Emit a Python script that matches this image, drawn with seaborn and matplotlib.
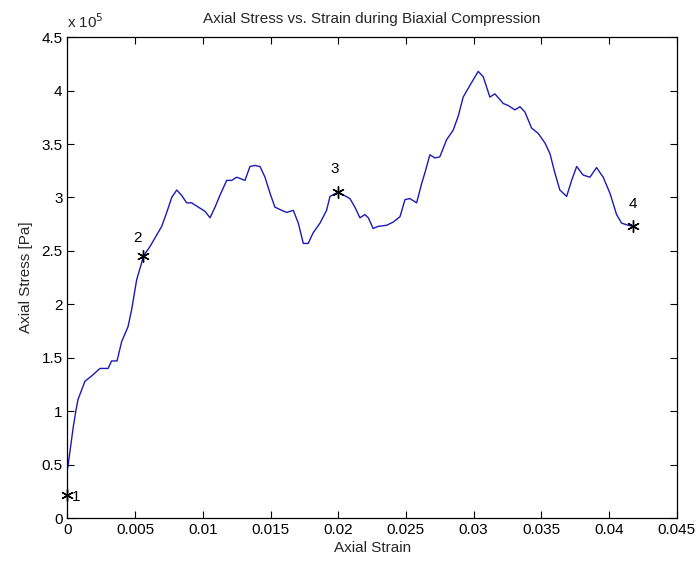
import matplotlib
matplotlib.use("Agg")
import matplotlib.pyplot as plt
import seaborn as sns
import pandas as pd

# Axial strain / stress (stress in units of 1e5 Pa)
strain = [0.00002, 0.00043, 0.00063, 0.00078, 0.00129, 0.00179, 0.0024, 0.0030, 0.00326,
          0.00366, 0.0040, 0.00447, 0.00474, 0.00511, 0.00548, 0.0056,
          0.00609, 0.00696, 0.00733, 0.0077, 0.00807, 0.00843, 0.0088, 0.00917, 0.00979,
          0.01016, 0.01053, 0.0109, 0.01126, 0.01176, 0.01213, 0.0125, 0.01311, 0.01348,
          0.01385, 0.01422, 0.01459, 0.01496, 0.01532, 0.01582, 0.01619, 0.01668, 0.01705,
          0.01742, 0.01778, 0.01815, 0.01865, 0.01914, 0.01939, 0.0200,
          0.02086, 0.02123, 0.0216, 0.02197, 0.02222, 0.02258, 0.02295, 0.02357, 0.02406,
          0.02456, 0.02493, 0.02529, 0.02579, 0.02616, 0.0264, 0.02677, 0.02714, 0.0275,
          0.028, 0.02849, 0.02886, 0.02923, 0.02973, 0.03034, 0.03071, 0.0312, 0.03157,
          0.03219, 0.03256, 0.03305, 0.03342, 0.03379, 0.03428, 0.03477, 0.03527, 0.03564,
          0.036, 0.03637, 0.03687, 0.03724, 0.03761, 0.03809, 0.03859, 0.03908, 0.03957,
          0.04007, 0.04056, 0.04093, 0.04142, 0.0418]
stress = [0.47, 0.855, 1.01, 1.11, 1.28, 1.33, 1.40, 1.40, 1.47,
          1.47, 1.65, 1.79, 1.95, 2.23, 2.39, 2.45,
          2.54, 2.73, 2.86, 3.00, 3.07, 3.02, 2.95, 2.95, 2.90,
          2.87, 2.81, 2.91, 3.02, 3.16, 3.16, 3.19, 3.16, 3.29,
          3.30, 3.29, 3.19, 3.04, 2.91, 2.88, 2.86, 2.88, 2.76,
          2.57, 2.57, 2.67, 2.76, 2.88, 3.01, 3.05,
          2.99, 2.91, 2.81, 2.84, 2.81, 2.71, 2.73, 2.74, 2.77,
          2.82, 2.98, 2.99, 2.95, 3.13, 3.23, 3.40, 3.37, 3.38,
          3.54, 3.63, 3.76, 3.94, 4.05, 4.18, 4.13, 3.94, 3.97,
          3.88, 3.86, 3.82, 3.85, 3.80, 3.65, 3.60, 3.51, 3.41,
          3.23, 3.07, 3.01, 3.16, 3.29, 3.21, 3.19, 3.28, 3.19,
          3.04, 2.84, 2.76, 2.74, 2.73]

# Marked points
point_labels = ["1", "2", "3", "4"]
point_strain = [0.0, 0.0056, 0.0200, 0.0418]
point_stress = [0.22, 2.45, 3.05, 2.73]

x_ticks = [0, 0.005, 0.01, 0.015, 0.02, 0.025, 0.03, 0.035, 0.04, 0.045]
x_tick_labels = ["0", "0.005", "0.01", "0.015", "0.02", "0.025", "0.03", "0.035", "0.04", "0.045"]
y_ticks = [0, 0.5, 1, 1.5, 2, 2.5, 3, 3.5, 4, 4.5]
y_tick_labels = ["0", "0.5", "1", "1.5", "2", "2.5", "3", "3.5", "4", "4.5"]

sns.set_style("ticks")
plt.rcParams["font.family"] = ["Liberation Sans", "DejaVu Sans"]
plt.rcParams["xtick.direction"] = "in"
plt.rcParams["ytick.direction"] = "in"

fig = plt.figure(figsize=(7.0, 5.71), dpi=100, facecolor="white")
ax = fig.add_axes([0.0964, 0.0928, 0.8703, 0.842])

df = pd.DataFrame({"strain": strain, "stress": stress})
sns.lineplot(data=df, x="strain", y="stress", sort=False, estimator=None,
             color="#1a1ab8", linewidth=1.0, ax=ax)

pdf = pd.DataFrame({"strain": point_strain, "stress": point_stress})
sns.scatterplot(data=pdf, x="strain", y="stress", marker=(6, 2, 0), s=70,
                color="black", edgecolor="black", linewidth=1.0, ax=ax, zorder=5,
                clip_on=False)

offsets = [(0.0003, -0.02, "left", "center"),
           (-0.00045, 0.17, "center", "center"),
           (-0.00025, 0.22, "center", "center"),
           (0.0, 0.21, "center", "center")]
for lab, xv, yv, (dx, dy, ha, va) in zip(point_labels, point_strain, point_stress, offsets):
    ax.text(xv + dx, yv + dy, lab, fontsize=11, ha=ha, va=va, color="black")

ax.set_xlim(0, 0.045)
ax.set_ylim(0, 4.5)
ax.set_xticks(x_ticks)
ax.set_xticklabels(x_tick_labels)
ax.set_yticks(y_ticks)
ax.set_yticklabels(y_tick_labels)
ax.tick_params(axis="both", which="both", direction="in", length=5, width=0.8,
               labelsize=11, top=True, right=True, colors="black")
for s in ax.spines.values():
    s.set_visible(True)
    s.set_linewidth(0.9)
    s.set_color("black")

ax.set_xlabel("Axial Strain", fontsize=11, labelpad=3)
ax.set_ylabel("Axial Stress [Pa]", fontsize=11, labelpad=6)
ax.set_title("Axial Stress vs. Strain during Biaxial Compression", fontsize=11, pad=10)
ax.text(0.0, 1.012, r"x 10$^5$", transform=ax.transAxes, fontsize=11,
        ha="left", va="bottom")

fig.savefig("out.png", dpi=100, facecolor="white")
